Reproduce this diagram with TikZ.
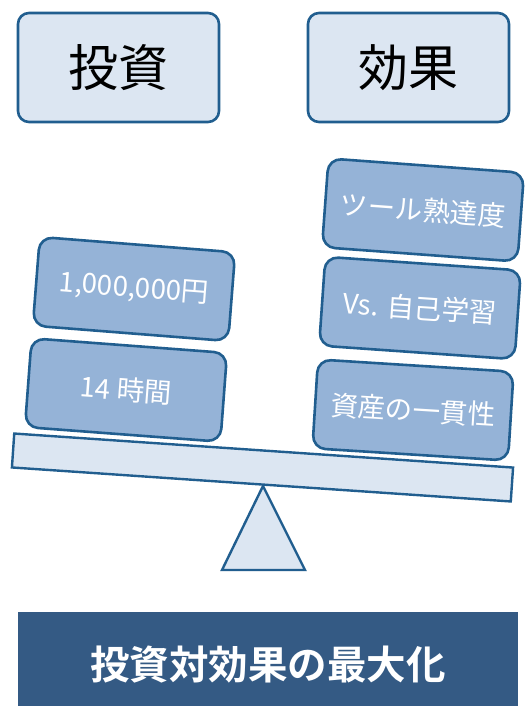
\documentclass[tikz,border=0pt]{standalone}
\usepackage{fontspec}
\newfontfamily\jp{Noto Sans CJK JP}
\newfontfamily\jpbold{Noto Sans CJK JP Bold}
\definecolor{lightfill}{HTML}{DCE6F2}
\definecolor{edgeblue}{HTML}{215E8F}
\definecolor{blockfill}{HTML}{95B3D7}
\definecolor{banner}{HTML}{345A84}
\begin{document}
\begin{tikzpicture}[x=1pt,y=-1pt,
  headbox/.style={draw=edgeblue, fill=lightfill, line width=2.6pt, rounded corners=11pt,
    minimum width=201pt, minimum height=109pt, font=\jp\fontsize{50}{54}\selectfont, text=black},
  weight/.style={draw=edgeblue, fill=blockfill, line width=2.6pt, rounded corners=13pt,
    minimum width=196pt, minimum height=89pt, font=\jp\fontsize{27.5}{30}\selectfont, text=white},
  plankstyle/.style={draw=edgeblue, fill=lightfill, line width=2.4pt,
    minimum width=500pt, minimum height=34pt},
  bannerstyle/.style={fill=banner, minimum width=500pt, minimum height=106pt,
    font=\jpbold\fontsize{39.5}{43}\selectfont, text=white, inner sep=0pt}
]
\useasboundingbox (0,0) rectangle (525,706);
\fill[white] (0,0) rectangle (525,706);

% header boxes
\node[headbox] (inv) at (118.5,67.5) {投資};
\node[headbox] (eff) at (408.5,67.5) {効果};

% fulcrum
\coordinate (apex) at (263,486);
\coordinate (bl) at (222,570);
\coordinate (br) at (305,570);
\draw[draw=edgeblue, fill=lightfill, line width=2.4pt, line join=miter] (apex) -- (bl) -- (br) -- cycle;

% plank
\node[plankstyle, rotate=-3.9] (plank) at (262.5,467.5) {};

% left weights
\node[weight, rotate=-4.5] (money) at (134,289) {1,000,000円};
\node[weight, rotate=-4.3] (hours) at (126,390) {14 時間};

% right weights
\node[weight, rotate=-4.2] (skill) at (423,210) {ツール熟達度};
\node[weight, rotate=-4.0] (self) at (420,308) {Vs. 自己学習};
\node[weight, rotate=-3.6] (asset) at (413,410) {資産の一貫性};

% banner
\node[bannerstyle] (title) at (268,665) {投資対効果の最大化};
\end{tikzpicture}
\end{document}
